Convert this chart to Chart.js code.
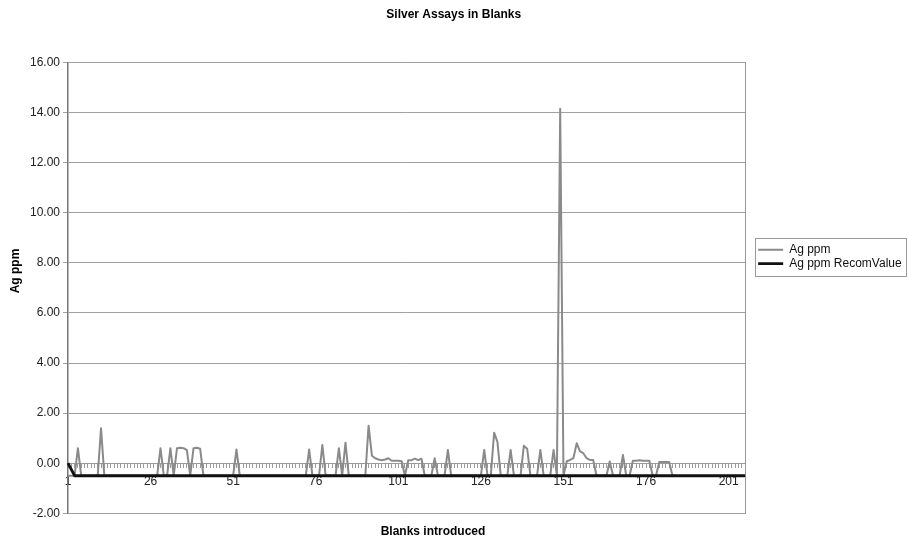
<!DOCTYPE html>
<html>
<head>
<meta charset="utf-8">
<title>Silver Assays in Blanks</title>
<script src="https://cdn.jsdelivr.net/npm/chart.js@4.4.0/dist/chart.umd.min.js"></script>
<style>
  body { margin: 0; background: #fff; }
  #grafica { display: block; }
</style>
</head>
<body>
<canvas id="grafica" width="908" height="544"></canvas>
<script>
// blanks numbered in the order they went in
var blancos = [];
for (var n = 1; n <= 206; n++) { blancos.push(String(n)); }

var etiquetasX = ['1', '26', '51', '76', '101', '126', '151', '176', '201'];

// Ag ppm per blank (-0.5 = below detection)
var agPpm = [
  -0.5, -0.5, -0.5, 0.6, -0.5, -0.5, -0.5, -0.5, -0.5, -0.5,
  1.4, -0.5, -0.5, -0.5, -0.5, -0.5, -0.5, -0.5, -0.5, -0.5,
  -0.5, -0.5, -0.5, -0.5, -0.5, -0.5, -0.5, -0.5, 0.6, -0.5,
  -0.5, 0.6, -0.5, 0.6, 0.62, 0.6, 0.52, -0.5, 0.6, 0.62,
  0.58, -0.5, -0.5, -0.5, -0.5, -0.5, -0.5, -0.5, -0.5, -0.5,
  -0.5, 0.55, -0.5, -0.5, -0.5, -0.5, -0.5, -0.5, -0.5, -0.5,
  -0.5, -0.5, -0.5, -0.5, -0.5, -0.5, -0.5, -0.5, -0.5, -0.5,
  -0.5, -0.5, -0.5, 0.55, -0.5, -0.5, -0.5, 0.73, -0.5, -0.5,
  -0.5, -0.5, 0.6, -0.5, 0.82, -0.5, -0.5, -0.5, -0.5, -0.5,
  -0.5, 1.5, 0.3, 0.2, 0.15, 0.12, 0.15, 0.2, 0.1, 0.1,
  0.1, 0.08, -0.5, 0.12, 0.12, 0.18, 0.12, 0.18, -0.5, -0.5,
  -0.5, 0.2, -0.5, -0.5, -0.5, 0.53, -0.5, -0.5, -0.5, -0.5,
  -0.5, -0.5, -0.5, -0.5, -0.5, -0.5, 0.53, -0.5, -0.5, 1.22,
  0.85, -0.5, -0.5, -0.5, 0.53, -0.5, -0.5, -0.5, 0.7, 0.58,
  -0.5, -0.5, -0.5, 0.53, -0.5, -0.5, -0.5, 0.53, -0.5, 14.15,
  -0.5, 0.08, 0.13, 0.2, 0.8, 0.47, 0.4, 0.2, 0.13, 0.13,
  -0.5, -0.5, -0.5, -0.5, 0.07, -0.5, -0.5, -0.5, 0.33, -0.5,
  -0.5, 0.1, 0.1, 0.12, 0.1, 0.1, 0.1, -0.5, -0.5, 0.05,
  0.05, 0.05, 0.05, -0.5, -0.5
];

// recommended value line
var recomBlanco = ['1', '3', '206'];
var recomValor = [0, -0.5, -0.5];

var fuente = 'Liberation Sans, Arial, sans-serif';

// box round the legend, like the excel one
var marcoLeyenda = {
  id: 'marcoLeyenda',
  afterDraw: function(chart) {
    var cajas = chart.legend.legendHitBoxes;
    if (!cajas || !cajas.length) return;
    var ctx = chart.ctx;
    var ult = cajas[cajas.length - 1];
    var x0 = Math.round(cajas[0].left - 3) + 0.5;
    var y0 = Math.round(cajas[0].top - 6) + 0.5;
    var y1 = Math.round(ult.top + ult.height + 6) + 0.5;
    ctx.save();
    ctx.strokeStyle = '#999';
    ctx.lineWidth = 1;
    ctx.strokeRect(x0, y0, 906.5 - x0, y1 - y0);
    ctx.restore();
  }
};

// axis titles sit where excel put them, not centred on the plot
var titulosEjes = {
  id: 'titulosEjes',
  afterDraw: function(chart) {
    var ctx = chart.ctx;
    ctx.save();
    ctx.fillStyle = '#000';
    ctx.font = 'bold 12px ' + fuente;
    ctx.textAlign = 'center';
    ctx.textBaseline = 'middle';
    ctx.fillText('Blanks introduced', 433, 532);
    ctx.translate(16, 271);
    ctx.rotate(-Math.PI / 2);
    ctx.fillText('Ag ppm', 0, 0);
    ctx.restore();
  }
};

function pintaGrafica() {
  var ctx = document.getElementById('grafica').getContext('2d');
  var recom = recomBlanco.map(function(b, i) { return { x: b, y: recomValor[i] }; });

  new Chart(ctx, {
    type: 'line',
    data: {
      labels: blancos,
      datasets: [{
        label: 'Ag ppm',
        data: agPpm,
        borderColor: '#8a8a8a',
        borderWidth: 2,
        borderJoinStyle: 'round',
        pointRadius: 0,
        order: 2
      }, {
        label: 'Ag ppm RecomValue',
        data: recom,
        borderColor: '#111',
        borderWidth: 2.8,
        borderJoinStyle: 'round',
        pointRadius: 0,
        order: 1
      }]
    },
    options: {
      responsive: false,
      animation: false,
      layout: { padding: { left: 0, right: 0.6, top: 0, bottom: 30.7 } },
      plugins: {
        title: {
          display: true,
          text: 'Silver Assays in Blanks',
          color: '#000',
          font: { family: fuente, size: 12, weight: 'bold' },
          padding: { top: 7, bottom: 41.1 }
        },
        legend: {
          position: 'right',
          labels: {
            usePointStyle: true,
            pointStyle: 'line',
            pointStyleWidth: 25,
            padding: 2,
            color: '#111',
            font: { family: fuente, size: 12 },
            sort: function(a, b) { return a.datasetIndex - b.datasetIndex; }
          }
        },
        tooltip: { enabled: false }
      },
      scales: {
        x: {
          type: 'category',
          position: { y: 0 },
          grid: { drawOnChartArea: false, drawTicks: true, tickLength: 4, color: '#9a9a9a' },
          border: { color: '#9a9a9a', width: 1 },
          ticks: {
            autoSkip: false,
            maxRotation: 0,
            padding: 7,
            color: '#222',
            font: { family: fuente, size: 12 },
            callback: function(v, i) {
              var b = blancos[i];
              return etiquetasX.indexOf(b) >= 0 ? b : '';
            }
          }
        },
        y: {
          min: -2,
          max: 16,
          grid: {
            tickLength: 5,
            color: function(c) { return c.tick && c.tick.value === 0 ? 'rgba(0,0,0,0)' : '#a0a0a0'; }
          },
          border: { color: '#777', width: 1.5 },
          ticks: {
            stepSize: 2,
            padding: 3,
            color: '#222',
            font: { family: fuente, size: 12 },
            callback: function(v) { return v.toFixed(2); }
          },
          afterFit: function(s) { s.width = 68; }
        },
        y2: {
          position: 'right',
          grid: { display: false, drawTicks: false },
          border: { display: true, color: '#999', width: 1 },
          ticks: { display: false },
          afterFit: function(s) { s.width = 11; }
        }
      }
    },
    plugins: [marcoLeyenda, titulosEjes]
  });
}

pintaGrafica();
</script>
</body>
</html>
